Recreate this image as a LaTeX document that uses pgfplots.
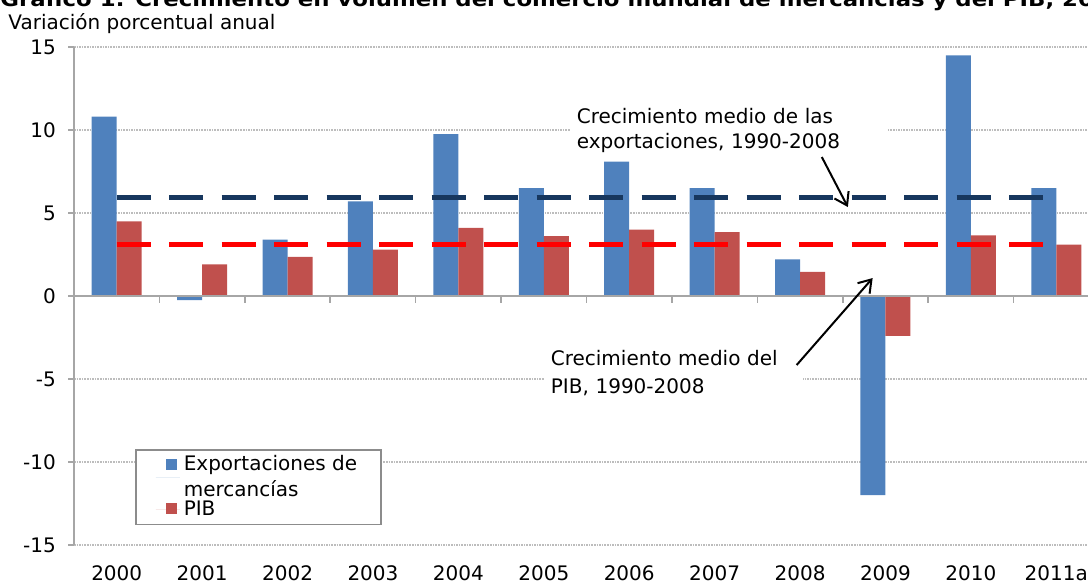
\documentclass[border=0pt]{standalone}
\usepackage{fontspec}
\setmainfont{DejaVu Sans}
\usepackage{graphicx}
\usepackage{pgfplots}
\pgfplotsset{compat=1.18}
\usetikzlibrary{arrows.meta}
\definecolor{expc}{HTML}{4F81BD}
\definecolor{pibc}{HTML}{C0504D}
\definecolor{navyc}{HTML}{17375E}
\definecolor{axgray}{HTML}{A6A6A6}
\definecolor{gridgray}{HTML}{BDBDBD}
\begin{document}
\begin{tikzpicture}[x=1pt,y=1pt]
\begin{axis}[
  at={(37pt,19pt)}, anchor=south west,
  scale only axis, width=512.5pt, height=249pt,
  xmin=-0.5, xmax=11.5, ymin=-15, ymax=15,
  axis lines*=left,
  x axis line style={draw=none},
  y axis line style={axgray, line width=0.8pt},
  xtick={0,1,2,3,4,5,6,7,8,9,10,11},
  xticklabels={2000,2001,2002,2003,2004,2005,2006,2007,2008,2009,2010,2011a},
  xtick align=inside,
  xtick style={draw=none},
  ytick={-15,-10,-5,0,5,10,15},
  yticklabels={-15,-10,-5,0,5,10,15},
  ytick align=outside,
  ytick style={axgray, line width=0.8pt},
  major tick length=3pt,
  ymajorgrids,
  major grid style={gridgray, line width=0.8pt, dash pattern=on 0.8pt off 0.5pt},
  ticklabel style={font=\fontsize{10}{12}\selectfont},
  xticklabel style={yshift=-6.9pt},
  yticklabel style={xshift=-2.6pt},
  legend style={at={(0.0595,0.1928)}, anchor=north west,
    draw=gray!90, line width=0.8pt,
    font=\fontsize{10}{13}\selectfont,
    cells={align=left, anchor=west},
    inner xsep=10pt, inner ysep=1pt, row sep=-3.5pt},
  legend cell align=left,
]
\addplot[ybar, bar width=12.5pt, bar shift=-6.25pt, fill=expc, draw=none,
  legend image code/.code={\path (0pt,0pt) -- (12pt,0pt);\fill[expc] (5pt,4pt) rectangle (10.5pt,9.5pt);}]
  coordinates {(0,10.8) (1,-0.25) (2,3.4) (3,5.7) (4,9.75) (5,6.5) (6,8.1) (7,6.5) (8,2.2) (9,-12.0) (10,14.5) (11,6.5)};
\addlegendentry{Exportaciones de\\mercancías}
\addplot[ybar, bar width=12.5pt, bar shift=6.25pt, fill=pibc, draw=none,
  legend image code/.code={\path (0pt,0pt) -- (12pt,0pt);\fill[pibc] (5pt,-2pt) rectangle (10.5pt,3.5pt);}]
  coordinates {(0,4.5) (1,1.9) (2,2.35) (3,2.8) (4,4.1) (5,3.6) (6,4.0) (7,3.85) (8,1.45) (9,-2.4) (10,3.65) (11,3.1)};
\addlegendentry{PIB}
\draw[axgray, line width=1pt] (axis cs:-0.5,0) -- (axis cs:11.5,0);
\pgfplotsinvokeforeach{0.5,1.5,2.5,3.5,4.5,5.5,6.5,7.5,8.5,9.5,10.5}{
  \draw[axgray, line width=0.8pt] (axis cs:#1,0) -- ++(0pt,-3.5pt);
}
\addplot[navyc, line width=2.35pt, dash pattern=on 17pt off 9.25pt, forget plot, sharp plot]
  coordinates {(0,5.95) (11,5.95)};
\addplot[red, line width=2.35pt, dash pattern=on 17pt off 9.25pt, forget plot, sharp plot]
  coordinates {(0,3.1) (11,3.1)};
\node[anchor=base west, fill=white, align=left, text width=151.8pt,
  font=\fontsize{10}{12.8}\selectfont] at (axis cs:5.304,10.42)
  {Crecimiento medio de las\\exportaciones, 1990-2008};
\node[anchor=base west, fill=white, align=left, text width=122.8pt,
  font=\fontsize{10}{14}\selectfont] at (axis cs:5.0,-4.16)
  {Crecimiento medio del\\PIB, 1990-2008};
\draw[line width=1pt, -{Straight Barb[length=6pt,width=8pt]}]
  (axis cs:8.255,8.37) -- (axis cs:8.56,5.36);
\draw[line width=1pt, -{Straight Barb[length=6pt,width=8pt]}]
  (axis cs:7.96,-4.16) -- (axis cs:8.85,1.08);
\end{axis}
\node[anchor=base west, inner sep=0pt, font=\bfseries\fontsize{10}{12}\selectfont]
  at (0pt,288pt) {\scalebox{1.14}[1]{Gráfico 1: Crecimiento en volumen del comercio mundial de mercancías y del PIB, 2000-2011a}};
\node[anchor=base west, inner sep=0pt, font=\fontsize{10}{12}\selectfont]
  at (4pt,276.5pt) {Variación porcentual anual};
\pgfresetboundingbox
\useasboundingbox (0pt,0pt) rectangle (544pt,291.5pt);
\end{tikzpicture}
\end{document}
